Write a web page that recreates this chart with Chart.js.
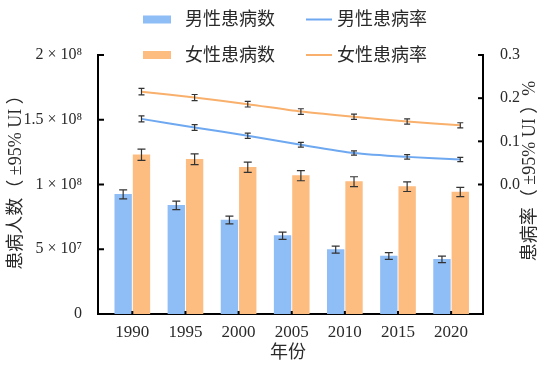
<!DOCTYPE html>
<html><head><meta charset="utf-8">
<script src="https://cdn.jsdelivr.net/npm/chart.js@4/dist/chart.umd.min.js"></script>
<style>html,body{margin:0;padding:0;background:#fff}#wrap{width:554px;height:368px;position:relative}</style>
</head><body><div id="wrap"><canvas id="c" width="554" height="368"></canvas></div>
<script>
// ---- data ----
const years = [1990, 1995, 2000, 2005, 2010, 2015, 2020];
const maleCases      = [9.24e7, 8.39e7, 7.26e7, 6.05e7, 4.97e7, 4.48e7, 4.22e7];
const maleCasesErr   = [3.5e6, 3.3e6, 3.0e6, 2.8e6, 2.7e6, 2.6e6, 2.5e6];
const femaleCases    = [1.23e8, 1.195e8, 1.133e8, 1.068e8, 1.022e8, 0.983e8, 0.942e8];
const femaleCasesErr = [4.3e6, 4.2e6, 4.0e6, 3.9e6, 3.8e6, 3.7e6, 3.6e6];
const maleRate       = [0.152, 0.132, 0.113, 0.092, 0.073, 0.064, 0.058];
const maleRateErr    = [0.007, 0.0065, 0.006, 0.0055, 0.005, 0.005, 0.005];
const femaleRate     = [0.215, 0.2015, 0.186, 0.169, 0.157, 0.146, 0.137];
const femaleRateErr  = [0.0075, 0.007, 0.0065, 0.0065, 0.006, 0.006, 0.006];
const leftTicks = [0, 5e7, 1e8, 1.5e8, 2e8];
const leftTickLabels = ['0', '5 × 10⁷', '1 × 10⁸', '1.5 × 10⁸', '2 × 10⁸'];
const rightTicks = [0, 0.1, 0.2, 0.3];
const rightTickLabels = ['0.0', '0.1', '0.2', '0.3'];
const seriesNames = ['男性患病数', '女性患病数', '男性患病率', '女性患病率'];
const xTitle = '年份';
const yLeftTitle = '患病人数（ ±95% UI ）';
const yRightTitle = '患病率（ ±95% UI ）%';

// ---- style ----
const BLUE_BAR = '#8fbdf6', ORANGE_BAR = '#fdbd80';
const BLUE_LINE = '#6ea8f0', ORANGE_LINE = '#f8b06c';
const SERIF = "'Liberation Serif','Noto Sans CJK SC'";
const TXT = '#2a2a2a';
const X_MIN = 1986.77, X_MAX = 2023.0, SHIFT = 0.862;

const pts = (vals) => years.map((x, i) => ({x, y: vals[i]}));

const errPlugin = {
  id: 'extras',
  afterDatasetsDraw(chart) {
    const ctx = chart.ctx;
    const errs = [maleCasesErr, femaleCasesErr, maleRateErr, femaleRateErr];
    const vals = [maleCases, femaleCases, maleRate, femaleRate];
    ctx.save();
    ctx.strokeStyle = '#333';
    ctx.lineWidth = 1.2;
    chart.data.datasets.forEach((ds, di) => {
      const meta = chart.getDatasetMeta(di);
      const ys = chart.scales[ds.yAxisID];
      const cap = di < 2 ? 4 : 3;
      meta.data.forEach((el, i) => {
        const x = el.x;
        const y1 = ys.getPixelForValue(vals[di][i] + errs[di][i]);
        const y2 = ys.getPixelForValue(vals[di][i] - errs[di][i]);
        ctx.beginPath();
        ctx.moveTo(x, y1); ctx.lineTo(x, y2);
        ctx.moveTo(x - cap, y1); ctx.lineTo(x + cap, y1);
        ctx.moveTo(x - cap, y2); ctx.lineTo(x + cap, y2);
        ctx.stroke();
      });
    });
    ctx.restore();
  },
  afterDraw(chart) {
    const ctx = chart.ctx, a = chart.chartArea;
    const yl = chart.scales.y, yr = chart.scales.yr, xs = chart.scales.x;
    ctx.save();
    ctx.strokeStyle = '#000';
    ctx.lineWidth = 2;
    // inward ticks
    leftTicks.forEach(v => {
      const y = yl.getPixelForValue(v);
      ctx.beginPath(); ctx.moveTo(a.left, y); ctx.lineTo(a.left + 6, y); ctx.stroke();
    });
    rightTicks.forEach(v => {
      const y = yr.getPixelForValue(v);
      ctx.beginPath(); ctx.moveTo(a.right, y); ctx.lineTo(a.right - 5, y); ctx.stroke();
    });
    years.forEach(v => {
      const x = xs.getPixelForValue(v);
      ctx.beginPath(); ctx.moveTo(x, a.bottom); ctx.lineTo(x, a.bottom - 3); ctx.stroke();
    });
    // titles
    ctx.fillStyle = TXT;
    ctx.textAlign = 'center'; ctx.textBaseline = 'middle';
    ctx.font = '18px ' + SERIF;
    ctx.fillText(xTitle, 288, 353);
    ctx.save(); ctx.translate(16, 178); ctx.rotate(-Math.PI / 2);
    ctx.fillText(yLeftTitle, 0, 0); ctx.restore();
    ctx.save(); ctx.translate(530, 171); ctx.rotate(-Math.PI / 2);
    ctx.fillText(yRightTitle, 0, 0); ctx.restore();
    // legend
    const rows = [19.5, 55];
    const barCols = [BLUE_BAR, ORANGE_BAR], lineCols = [BLUE_LINE, ORANGE_LINE];
    ctx.textAlign = 'left';
    ctx.font = '18px ' + SERIF;
    rows.forEach((ry, r) => {
      ctx.fillStyle = barCols[r];
      ctx.fillRect(143, ry - 4, 28, 8);
      ctx.strokeStyle = lineCols[r]; ctx.lineWidth = 2;
      ctx.beginPath(); ctx.moveTo(306, ry); ctx.lineTo(332, ry); ctx.stroke();
      ctx.fillStyle = TXT;
      ctx.fillText(seriesNames[r], 185, ry + 1);
      ctx.fillText(seriesNames[r + 2], 337, ry + 1);
    });
    ctx.restore();
  }
};

const barStyle = {barThickness: 16.7, grouped: false, borderWidth: 0};

new Chart(document.getElementById('c'), {
  type: 'bar',
  data: {
    datasets: [
      Object.assign({type: 'bar', label: seriesNames[0], data: pts(maleCases), backgroundColor: BLUE_BAR,
       xAxisID: 'xm', yAxisID: 'y', order: 2}, barStyle),
      Object.assign({type: 'bar', label: seriesNames[1], data: pts(femaleCases), backgroundColor: ORANGE_BAR,
       xAxisID: 'xf', yAxisID: 'y', order: 2}, barStyle),
      {type: 'line', label: seriesNames[2], data: pts(maleRate), borderColor: BLUE_LINE, borderWidth: 2,
       pointRadius: 0, tension: 0.25, xAxisID: 'xf', yAxisID: 'yr', order: 1},
      {type: 'line', label: seriesNames[3], data: pts(femaleRate), borderColor: ORANGE_LINE, borderWidth: 2,
       pointRadius: 0, tension: 0.25, xAxisID: 'xf', yAxisID: 'yr', order: 1}
    ]
  },
  options: {
    responsive: false, animation: false, devicePixelRatio: 1,
    layout: {padding: {top: 55, left: 0, right: 0, bottom: 0}},
    plugins: {legend: {display: false}, tooltip: {enabled: false}},
    scales: {
      x: {type: 'linear', position: 'bottom', min: X_MIN, max: X_MAX, offset: false,
          grid: {display: false}, border: {display: true, color: '#000', width: 2},
          afterBuildTicks: s => { s.ticks = years.map(v => ({value: v})); },
          afterFit: s => { s.height = 54; },
          ticks: {callback: v => String(v), color: TXT, padding: 0, maxRotation: 0,
                  font: {family: SERIF, size: 17}}},
      xm: {type: 'linear', display: false, min: X_MIN + SHIFT, max: X_MAX + SHIFT, offset: false},
      xf: {type: 'linear', display: false, min: X_MIN - SHIFT, max: X_MAX - SHIFT, offset: false},
      y: {type: 'linear', position: 'left', min: 0, max: 2e8,
          grid: {display: false}, border: {display: true, color: '#000', width: 2},
          afterBuildTicks: s => { s.ticks = leftTicks.map(v => ({value: v})); },
          afterFit: s => { s.width = 98; },
          ticks: {callback: (v, i) => leftTickLabels[i], color: TXT, padding: 8,
                  font: {family: SERIF, size: 16}}},
      yr: {type: 'linear', position: 'right', min: -0.3, max: 0.3,
          grid: {display: false}, border: {display: true, color: '#000', width: 2},
          afterBuildTicks: s => { s.ticks = rightTicks.map(v => ({value: v})); },
          afterFit: s => { s.width = 71; },
          ticks: {callback: (v, i) => rightTickLabels[i], color: TXT, padding: 9,
                  font: {family: SERIF, size: 16}}}
    }
  },
  plugins: [errPlugin]
});
</script></body></html>
